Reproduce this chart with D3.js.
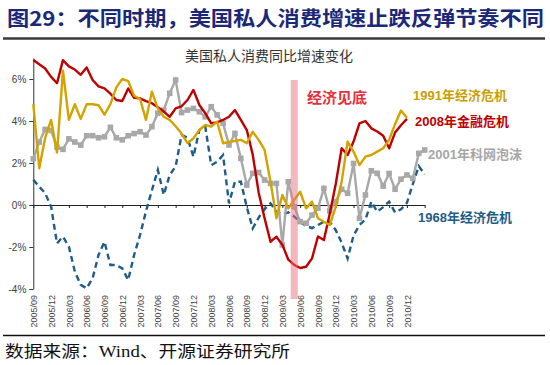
<!DOCTYPE html>
<html>
<head>
<meta charset="utf-8">
<script src="https://cdn.jsdelivr.net/npm/d3@7"></script>
<style>
  html, body { margin: 0; padding: 0; background: #fff; }
  svg { display: block; font-family: "Liberation Sans", Arial, "Noto Sans CJK SC", sans-serif; }
</style>
</head>
<body>
<svg id="chart" width="550" height="365"></svg>
<script>
// ---------------- data ----------------
const titleText = "图29：不同时期，美国私人消费增速止跌反弹节奏不同";
const subtitleText = "美国私人消费同比增速变化";
const sourceText = "数据来源：Wind、开源证券研究所";
const troughText = "经济见底";

// month index 0 = 2005/09 (monthly)
const tickLabels = ["2005/09","2005/12","2006/03","2006/06","2006/09","2006/12","2007/03","2007/06",
  "2007/09","2007/12","2008/03","2008/06","2008/09","2008/12","2009/03","2009/06","2009/09","2009/12",
  "2010/03","2010/06","2010/09","2010/12"];
const yTicks = [-4, -2, 0, 2, 4, 6];

const seriesNames = ["1991年经济危机", "2008年金融危机", "2001年科网泡沫", "1968年经济危机"];

const crisis1991 = [4.8, 1.75, 3.2, 4.05, 2.5, 6.4, 4.05, 4.8, 4.1, 4.8,
  4.8, 4.75, 4.3, 4.8, 5.6, 6.0, 5.9, 5.2, 5.05, 4.05,
  5.4, 4.6, 4.2, 4.05, 3.75, 3.4, 2.95, 3.17, 3.57, 3.81,
  3.73, 3.97, 2.94, 3.0, 3.05, 3.1, 2.94, 3.49, 3.1, 2.62,
  1.11, -0.63, 0.48, -0.16, 0.25, 0.63, -0.16, 0.16, -0.63, -0.8,
  -0.95, -0.08, 1.11, 3.02, 2.54, 1.9, 2.3, 2.38, 2.54, 2.7,
  3.1, 3.85, 4.5, 4.15];

const crisis2008 = [6.9, 6.7, 6.5, 6.1, 5.8, 6.9, 6.6, 6.45, 6.2, 6.55,
  5.95, 5.65, 5.55, 5.3, 5.0, 4.95, 5.55, 5.1, 5.08, 4.95,
  4.85, 4.65, 4.45, 4.2, 4.6, 4.7, 5.0, 5.48, 4.76, 4.37,
  3.89, 3.93, 4.05, 4.2, 4.52, 4.05, 3.57, 2.4, 0.6, -0.63,
  -1.75, -1.51, -1.9, -2.6, -2.85, -3.0, -2.94, -2.54, -1.5, -1.67,
  -0.4, 1.0, 2.7, 2.38, 3.02, 3.89, 4.0, 3.65, 3.5, 3.3,
  2.7, 3.45, 3.8, 4.1];

const bubble2001 = [2.2, 3.0, 3.6, 3.55, 2.75, 2.65, 3.15, 3.0, 2.85, 3.3,
  3.3, 3.2, 3.25, 3.7, 3.2, 3.1, 3.3, 3.4, 3.49, 3.33,
  3.73, 4.37, 4.52, 5.32, 5.95, 4.4, 4.52, 4.6, 4.44, 4.2,
  4.68, 4.29, 3.89, 2.86, 3.41, 2.22, 0.95, 1.51, 1.55, 1.19,
  1.03, 1.03, -1.9, 1.11, -0.08, -0.79, -0.87, -0.48, -0.15, 0.79,
  -0.28, 0.16, 0.75, 0.56, 1.98, -0.63, 0.48, 1.63, 1.51, 0.9,
  1.5, 0.75, 1.23, 1.43, 1.27, 2.46, 2.62];

const crisis1968 = [1.2, 0.87, 0.56, -0.08, -1.83, -1.51, -1.98, -3.17, -3.8, -3.97,
  -3.49, -2.38, -1.75, -2.86, -2.86, -3.02, -3.57, -2.38, -1.43, -0.3,
  0.7, 1.67, 0.48, 1.43, 1.83, 3.33, 3.2, 2.3, 3.57, 3.73,
  1.9, 2.06, 2.38, 0.08, 1.11, 1.11, -0.1, -1.11, -0.6, -0.2,
  0.08, -0.32, -0.45, -0.35, -0.55, -0.8, -1.0, -1.1, -0.95, -0.8,
  -0.8, -1.2, -1.8, -2.55, -1.45, -0.95, -0.7, 0.16, -0.32, -0.1,
  0.16, -0.35, -0.2, 0.1, 1.0, 1.85, 1.45];

const troughMonth = 44;   // 2009/05 shaded band centre (month index)

// ---------------- drawing ----------------
const svg = d3.select("#chart");

const x = d3.scaleLinear().domain([0, 66]).range([33.3, 424.7]);
const y = d3.scaleLinear().domain([-4, 7]).range([289, 58]);

// title
svg.append("text").attr("x", 7).attr("y", 26)
  .attr("font-family", "'Noto Sans CJK SC', sans-serif")
  .attr("font-size", 20).attr("font-weight", "bold").attr("fill", "#1b2878")
  .attr("textLength", 537).attr("lengthAdjust", "spacingAndGlyphs")
  .text(titleText);
svg.append("line").attr("x1", 3).attr("x2", 545).attr("y1", 38.5).attr("y2", 38.5)
  .attr("stroke", "#3a3a3a").attr("stroke-width", 2.5);

// subtitle
svg.append("text").attr("x", 269).attr("y", 61).attr("text-anchor", "middle")
  .attr("font-family", "'Noto Sans CJK SC', sans-serif")
  .attr("font-size", 14).attr("fill", "#333").text(subtitleText);

// y axis
const yAxis = svg.append("g").attr("transform", `translate(${x(0)},0)`)
  .call(d3.axisLeft(y).tickValues(yTicks).tickFormat(d => d + "%").tickSize(4).tickSizeOuter(0).tickPadding(3));
yAxis.select(".domain").attr("stroke", "#333");
yAxis.selectAll(".tick line").attr("stroke", "#333");
yAxis.selectAll("text").attr("font-size", 10).attr("fill", "#404040")
  .attr("font-family", "'Liberation Sans', Arial, sans-serif");

// zero line with quarterly ticks
const tickIdx = d3.range(0, 67, 3);
const xAxis0 = svg.append("g").attr("transform", `translate(0,${y(0)})`)
  .call(d3.axisBottom(x).tickValues(tickIdx).tickFormat("").tickSize(3).tickSizeOuter(0));
xAxis0.select(".domain").attr("stroke", "#222");
xAxis0.selectAll(".tick line").attr("stroke", "#222");

// bottom rotated labels
const labelIdx = tickLabels.map((d, i) => i * 3);
const xLab = svg.append("g").attr("transform", `translate(0,293)`)
  .call(d3.axisBottom(x).tickValues(labelIdx).tickFormat((d, i) => tickLabels[i]).tickSize(0).tickSizeOuter(0));
xLab.select(".domain").remove();
xLab.selectAll("text")
  .attr("font-size", 9).attr("fill", "#444")
  .attr("font-family", "'Liberation Sans', Arial, sans-serif")
  .attr("text-anchor", "end")
  .attr("transform", "rotate(-90)")
  .attr("x", -2).attr("y", 0).attr("dy", "0.35em");

// lines
const line = d3.line().x((d, i) => x(i)).y(d => y(d));

svg.append("path").datum(crisis1968)
  .attr("d", line).attr("fill", "none").attr("stroke", "#1f5c87")
  .attr("stroke-width", 2.4).attr("stroke-dasharray", "6,4");

svg.append("path").datum(bubble2001)
  .attr("d", line).attr("fill", "none").attr("stroke", "#a8a8a8")
  .attr("stroke-width", 2.4);
svg.append("g").selectAll("rect").data(bubble2001).join("rect")
  .attr("x", (d, i) => x(i) - 2.8).attr("y", d => y(d) - 2.8)
  .attr("width", 5.6).attr("height", 5.6).attr("fill", "#a8a8a8");

svg.append("path").datum(crisis2008)
  .attr("d", line).attr("fill", "none").attr("stroke", "#c00000")
  .attr("stroke-width", 2.4).attr("stroke-linejoin", "round");

svg.append("path").datum(crisis1991)
  .attr("d", line).attr("fill", "none").attr("stroke", "#d4a300")
  .attr("stroke-width", 2.4).attr("stroke-linejoin", "round");

// trough band
svg.append("rect")
  .attr("x", x(troughMonth - 0.6)).attr("width", x(troughMonth + 0.6) - x(troughMonth - 0.6))
  .attr("y", 80).attr("height", 219)
  .attr("fill", "#ec6f7e").attr("opacity", 0.5);

svg.append("text").attr("x", 307).attr("y", 103)
  .attr("font-family", "'Noto Sans CJK SC', sans-serif")
  .attr("font-size", 15).attr("font-weight", "bold").attr("fill", "#e4303c").text(troughText);

// series labels
const labelStyle = [
  { name: seriesNames[0], x: 413, y: 100, color: "#c9a000" },
  { name: seriesNames[1], x: 415, y: 126, color: "#c00000" },
  { name: seriesNames[2], x: 428, y: 159, color: "#a6a6a6" },
  { name: seriesNames[3], x: 418, y: 222, color: "#1f5c87" }
];
svg.append("g").selectAll("text").data(labelStyle).join("text")
  .attr("x", d => d.x).attr("y", d => d.y)
  .attr("font-family", "'Liberation Sans', 'Noto Sans CJK SC', sans-serif")
  .attr("font-size", 13).attr("font-weight", "bold")
  .attr("fill", d => d.color).text(d => d.name);

// bottom rule & source
svg.append("line").attr("x1", 3).attr("x2", 545).attr("y1", 335.5).attr("y2", 335.5)
  .attr("stroke", "#111").attr("stroke-width", 1.3);
svg.append("text").attr("x", 5).attr("y", 357)
  .attr("font-family", "'Liberation Serif', 'Noto Sans CJK SC', serif")
  .attr("font-size", 16).attr("fill", "#111")
  .attr("textLength", 285).attr("lengthAdjust", "spacingAndGlyphs")
  .text(sourceText);
</script>
</body>
</html>
